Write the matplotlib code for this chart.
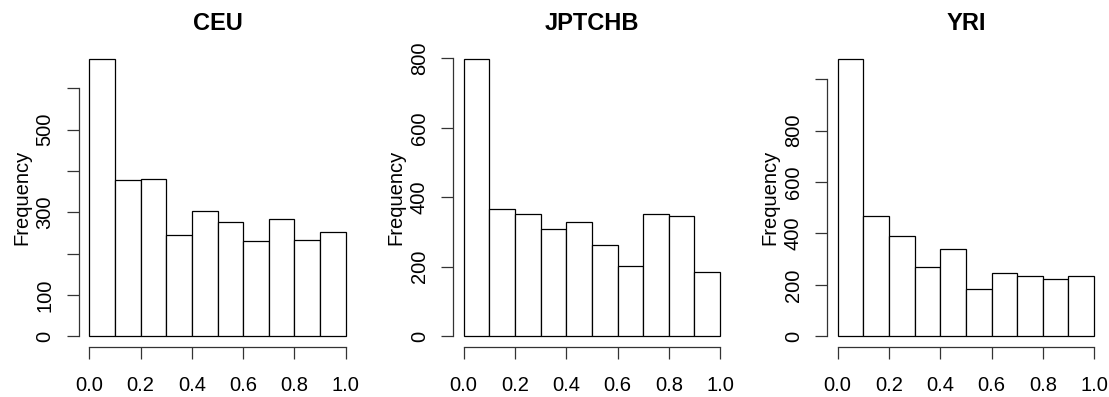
import matplotlib
matplotlib.use("Agg")
import matplotlib.pyplot as plt
import numpy as np

plt.rcParams['font.family'] = ['Liberation Sans', 'DejaVu Sans']

# ---- data ----
titles = ["CEU", "JPTCHB", "YRI"]
bin_edges = [0.0, 0.1, 0.2, 0.3, 0.4, 0.5, 0.6, 0.7, 0.8, 0.9, 1.0]
ceu_counts = [671, 378, 380, 246, 302, 277, 231, 285, 232, 252]
jptchb_counts = [798, 365, 353, 309, 330, 262, 203, 351, 345, 184]
yri_counts = [1078, 469, 391, 268, 341, 185, 247, 233, 224, 233]
x_ticks = [0.0, 0.2, 0.4, 0.6, 0.8, 1.0]
x_ticklabels = ["0.0", "0.2", "0.4", "0.6", "0.8", "1.0"]
ceu_yticks = [0, 100, 200, 300, 400, 500, 600]
ceu_ylabels = ["0", "100", "", "300", "", "500", ""]
jptchb_yticks = [0, 200, 400, 600, 800]
jptchb_ylabels = ["0", "200", "400", "600", "800"]
yri_yticks = [0, 200, 400, 600, 800, 1000]
yri_ylabels = ["0", "200", "400", "600", "800", ""]

counts = [ceu_counts, jptchb_counts, yri_counts]
yticks = [ceu_yticks, jptchb_yticks, yri_yticks]
ylabels = [ceu_ylabels, jptchb_ylabels, yri_ylabels]

W, H = 1109, 397
fig = plt.figure(figsize=(W / 100, H / 100), dpi=100)

lefts = [79.0, 453.4, 827.4]
width_px = 277.0
top_px, bottom_px = 47.9, 347.4
FS = 14.5
TICKLEN = 8.6

for i in range(3):
    ax = fig.add_axes([lefts[i] / W, 1 - bottom_px / H, width_px / W, (bottom_px - top_px) / H])
    c = counts[i]
    edges = np.array(bin_edges)
    centers = (edges[:-1] + edges[1:]) / 2
    widths = np.diff(edges)
    ax.bar(centers, c, width=widths, facecolor="white", edgecolor="black", linewidth=0.9)
    m = max(c)
    ax.set_xlim(-0.04, 1.04)
    ax.set_ylim(-0.04 * m, 1.04 * m)
    for s in ["top", "right"]:
        ax.spines[s].set_visible(False)
    ax.spines["left"].set_bounds(yticks[i][0], yticks[i][-1])
    ax.spines["bottom"].set_bounds(0, 1)
    for s in ["left", "bottom"]:
        ax.spines[s].set_linewidth(0.9)
        ax.spines[s].set_color("#333333")
    ax.set_xticks(x_ticks)
    ax.set_xticklabels(x_ticklabels)
    ax.set_yticks(yticks[i])
    ax.set_yticklabels(ylabels[i], rotation=90, va="center")
    ax.tick_params(axis="both", length=TICKLEN, width=0.9, color="#333333",
                   labelsize=FS, labelcolor="black", direction="out")
    ax.tick_params(axis="x", pad=12)
    ax.tick_params(axis="y", pad=9)
    # y-axis title
    xc = (lefts[i] + 0.7 - 58.3) / W
    yc = 1 - ((top_px + bottom_px) / 2) / H
    fig.text(xc, yc, "Frequency", rotation=90, ha="center", va="center", fontsize=FS)
    # panel title
    tx = (lefts[i] + width_px / 2) / W
    fig.text(tx, 1 - 23.8 / H, titles[i], ha="center", va="center",
             fontsize=17, fontweight="bold")

fig.savefig("out.png", dpi=100)
